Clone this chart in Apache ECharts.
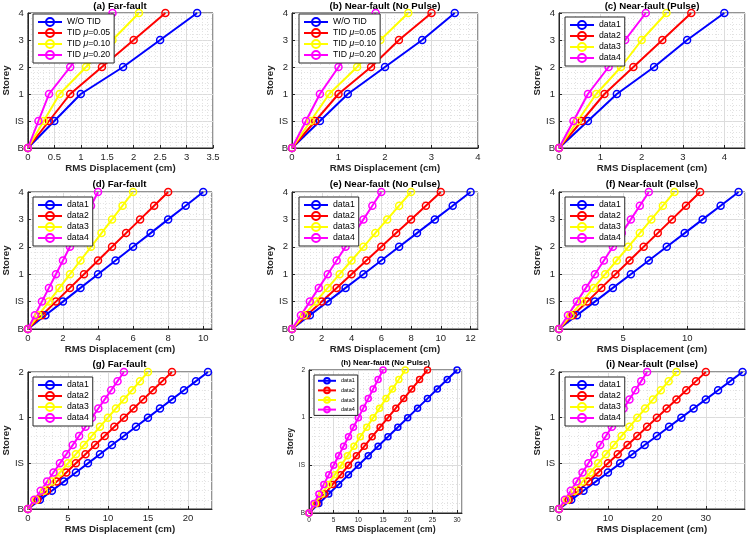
<!DOCTYPE html>
<html>
<head>
<meta charset="utf-8">
<script src="https://cdn.jsdelivr.net/npm/echarts@6/dist/echarts.min.js"></script>
<style>
  html, body { margin: 0; padding: 0; background: #fff; }
  #chart { width: 750px; height: 539px; }
</style>
</head>
<body>
<div id="chart"></div>
<script>
// storey levels on the y axis (B, IS, 1, 2, ...)
const levels6 = [0, 1, 2, 3, 4, 5];
const levels11 = [0, 0.5, 1, 1.5, 2, 2.5, 3, 3.5, 4, 4.5, 5];
const levels16 = [0, 0.2, 0.4, 0.6, 0.8, 1, 1.2, 1.4, 1.6, 1.8, 2, 2.2, 2.4, 2.6, 2.8, 3];
const storeyLabels4 = ['B', 'IS', '1', '2', '3', '4'];
const storeyLabels2 = ['B', 'IS', '1', '2'];

const tidNames = ['W/O TID', 'TID μ=0.05', 'TID μ=0.10', 'TID μ=0.20'];
const dataNames = ['data1', 'data2', 'data3', 'data4'];
const colors = ['#0000ff', '#ff0000', '#ffff00', '#ff00ff'];

// RMS displacement (cm), one row per series
const dispA = [
  [0, 0.5, 1.0, 1.8, 2.5, 3.2],
  [0, 0.4, 0.8, 1.4, 2.0, 2.6],
  [0, 0.3, 0.6, 1.1, 1.6, 2.1],
  [0, 0.2, 0.4, 0.8, 1.2, 1.6]
];
const dispB = [
  [0, 0.6, 1.2, 2.0, 2.8, 3.5],
  [0, 0.5, 1.0, 1.7, 2.3, 3.0],
  [0, 0.4, 0.8, 1.4, 1.9, 2.5],
  [0, 0.3, 0.6, 1.0, 1.4, 1.8]
];
const dispC = [
  [0, 0.7, 1.4, 2.3, 3.1, 4.0],
  [0, 0.55, 1.1, 1.8, 2.5, 3.2],
  [0, 0.45, 0.9, 1.5, 2.0, 2.6],
  [0, 0.35, 0.7, 1.2, 1.6, 2.1]
];
const dispD = [
  [0, 1, 2, 3, 4, 5, 6, 7, 8, 9, 10],
  [0, 0.8, 1.6, 2.4, 3.2, 4.0, 4.8, 5.6, 6.4, 7.2, 8.0],
  [0, 0.6, 1.2, 1.8, 2.4, 3.0, 3.6, 4.2, 4.8, 5.4, 6.0],
  [0, 0.4, 0.8, 1.2, 1.6, 2.0, 2.4, 2.8, 3.2, 3.6, 4.0]
];
const dispE = [
  [0, 1.2, 2.4, 3.6, 4.8, 6.0, 7.2, 8.4, 9.6, 10.8, 12.0],
  [0, 1, 2, 3, 4, 5, 6, 7, 8, 9, 10],
  [0, 0.8, 1.6, 2.4, 3.2, 4.0, 4.8, 5.6, 6.4, 7.2, 8.0],
  [0, 0.6, 1.2, 1.8, 2.4, 3.0, 3.6, 4.2, 4.8, 5.4, 6.0]
];
const dispF = [
  [0, 1.4, 2.8, 4.2, 5.6, 7.0, 8.4, 9.8, 11.2, 12.6, 14.0],
  [0, 1.1, 2.2, 3.3, 4.4, 5.5, 6.6, 7.7, 8.8, 9.9, 11.0],
  [0, 0.9, 1.8, 2.7, 3.6, 4.5, 5.4, 6.3, 7.2, 8.1, 9.0],
  [0, 0.7, 1.4, 2.1, 2.8, 3.5, 4.2, 4.9, 5.6, 6.3, 7.0]
];
const dispG = [
  [0, 1.5, 3, 4.5, 6, 7.5, 9, 10.5, 12, 13.5, 15, 16.5, 18, 19.5, 21, 22.5],
  [0, 1.2, 2.4, 3.6, 4.8, 6.0, 7.2, 8.4, 9.6, 10.8, 12.0, 13.2, 14.4, 15.6, 16.8, 18.0],
  [0, 1, 2, 3, 4, 5, 6, 7, 8, 9, 10, 11, 12, 13, 14, 15],
  [0, 0.8, 1.6, 2.4, 3.2, 4.0, 4.8, 5.6, 6.4, 7.2, 8.0, 8.8, 9.6, 10.4, 11.2, 12.0]
];
const dispH = [
  [0, 2, 4, 6, 8, 10, 12, 14, 16, 18, 20, 22, 24, 26, 28, 30],
  [0, 1.6, 3.2, 4.8, 6.4, 8.0, 9.6, 11.2, 12.8, 14.4, 16.0, 17.6, 19.2, 20.8, 22.4, 24.0],
  [0, 1.3, 2.6, 3.9, 5.2, 6.5, 7.8, 9.1, 10.4, 11.7, 13.0, 14.3, 15.6, 16.9, 18.2, 19.5],
  [0, 1, 2, 3, 4, 5, 6, 7, 8, 9, 10, 11, 12, 13, 14, 15]
];
const dispI = [
  [0, 2.5, 5, 7.5, 10, 12.5, 15, 17.5, 20, 22.5, 25, 27.5, 30, 32.5, 35, 37.5],
  [0, 2, 4, 6, 8, 10, 12, 14, 16, 18, 20, 22, 24, 26, 28, 30],
  [0, 1.6, 3.2, 4.8, 6.4, 8.0, 9.6, 11.2, 12.8, 14.4, 16.0, 17.6, 19.2, 20.8, 22.4, 24.0],
  [0, 1.2, 2.4, 3.6, 4.8, 6.0, 7.2, 8.4, 9.6, 10.8, 12.0, 13.2, 14.4, 15.6, 16.8, 18.0]
];

const FONT = '"Liberation Sans", Arial, sans-serif';

// panel layout: grid box [left, top, width, height]
const panels = [
  { title: '(a) Far-fault', box: [27, 13, 186, 135], xMax: 3.5, xInt: 0.5, disp: dispA, levels: levels6, yMax: 5, yLabels: storeyLabels4, names: tidNames, legend: [33, 14] },
  { title: '(b) Near-fault (No Pulse)', box: [292, 13, 186, 135], xMax: 4, xInt: 1, disp: dispB, levels: levels6, yMax: 5, yLabels: storeyLabels4, names: tidNames, legend: [299, 14] },
  { title: '(c) Near-fault (Pulse)', box: [559, 13, 186, 135], xMax: 4.5, xInt: 1, disp: dispC, levels: levels6, yMax: 5, yLabels: storeyLabels4, names: dataNames, legend: [565, 17] },
  { title: '(d) Far-fault', box: [27, 192, 185, 137], xMax: 10.5, xInt: 2, disp: dispD, levels: levels11, yMax: 5, yLabels: storeyLabels4, names: dataNames, legend: [33, 197] },
  { title: '(e) Near-fault (No Pulse)', box: [292, 192, 186, 137], xMax: 12.5, xInt: 2, disp: dispE, levels: levels11, yMax: 5, yLabels: storeyLabels4, names: dataNames, legend: [299, 197] },
  { title: '(f) Near-fault (Pulse)', box: [559, 192, 186, 137], xMax: 14.5, xInt: 5, disp: dispF, levels: levels11, yMax: 5, yLabels: storeyLabels4, names: dataNames, legend: [565, 197] },
  { title: '(g) Far-fault', box: [27, 372, 185, 137], xMax: 23, xInt: 5, disp: dispG, levels: levels16, yMax: 3, yLabels: storeyLabels2, names: dataNames, legend: [33, 377] },
  { title: '(h) Near-fault (No Pulse)', box: [309, 370, 153, 143], xMax: 31, xInt: 5, disp: dispH, levels: levels16, yMax: 3, yLabels: storeyLabels2, names: dataNames, legend: [314, 375], small: true },
  { title: '(i) Near-fault (Pulse)', box: [559, 372, 186, 137], xMax: 38, xInt: 10, disp: dispI, levels: levels16, yMax: 3, yLabels: storeyLabels2, names: dataNames, legend: [565, 377] }
];

const option = {
  backgroundColor: '#fff',
  animation: false,
  textStyle: { fontFamily: FONT },
  title: [], grid: [], xAxis: [], yAxis: [], legend: [], series: []
};

panels.forEach((p, k) => {
  const [left, top, width, height] = p.box;
  const fTick = p.small ? 6.5 : 9.5;
  const fName = p.small ? 8.8 : 9.7;
  const fTitle = p.small ? 7.8 : 9.7;
  const fLegend = p.small ? 5.5 : 8.7;

  option.title.push({
    text: p.title,
    left: left + width / 2,
    top: Math.max(1, top - fTitle - 3),
    textAlign: 'center',
    padding: 0,
    textStyle: { fontSize: fTitle, fontWeight: 'bold', color: '#000', fontFamily: FONT }
  });

  option.grid.push({
    left: left, top: top, width: width, height: height,
    show: true, borderColor: '#262626', borderWidth: 1, backgroundColor: '#fff'
  });

  option.xAxis.push({
    type: 'value', gridIndex: k, min: 0, max: p.xMax, interval: p.xInt,
    name: 'RMS Displacement (cm)', nameLocation: 'middle', nameGap: p.small ? 11 : 15,
    nameTextStyle: { fontSize: fName, fontWeight: 'bold', color: '#262626' },
    axisLine: { show: true, lineStyle: { color: '#262626' } },
    axisTick: { show: true, inside: true, length: 3, lineStyle: { color: '#262626' } },
    minorTick: { show: false, splitNumber: 5 },
    axisLabel: { fontSize: fTick, color: '#262626', margin: 4, showMaxLabel: p.xMax % p.xInt === 0 },
    splitLine: { show: true, lineStyle: { color: '#dcdcdc', width: 1 } },
    minorSplitLine: { show: true, lineStyle: { color: '#e2e2e2', type: [1, 2], width: 1 } }
  });

  option.yAxis.push({
    type: 'value', gridIndex: k, min: 0, max: p.yMax, interval: 1,
    name: 'Storey', nameLocation: 'middle', nameGap: p.small ? 11 : 13, nameRotate: 90,
    nameTextStyle: { fontSize: fName, fontWeight: 'bold', color: '#262626' },
    axisLine: { show: true, lineStyle: { color: '#262626' } },
    axisTick: { show: true, inside: true, length: 3, lineStyle: { color: '#262626' } },
    minorTick: { show: false, splitNumber: 5 },
    axisLabel: {
      fontSize: fTick, color: '#262626', margin: 4,
      formatter: v => p.yLabels[Math.round(v)]
    },
    splitLine: { show: true, lineStyle: { color: '#dcdcdc', width: 1 } },
    minorSplitLine: { show: true, lineStyle: { color: '#e2e2e2', type: [1, 2], width: 1 } }
  });

  option.legend.push({
    left: p.legend[0], top: p.legend[1], orient: 'vertical',
    z: 20,
    data: p.names,
    backgroundColor: '#fff', borderColor: '#262626', borderWidth: 1,
    padding: p.small ? [2, 3] : [3, 4], itemGap: p.small ? 2 : 1,
    itemWidth: p.small ? 18 : 24, itemHeight: p.small ? 7 : 10,
    selectedMode: false,
    formatter: name => name.replace('μ', '{i|μ}'),
    textStyle: {
      fontSize: fLegend, color: '#000', fontFamily: FONT,
      rich: { i: { fontStyle: 'italic', fontSize: fLegend, fontFamily: FONT } }
    }
  });

  p.disp.forEach((xs, s) => {
    option.series.push({
      name: p.names[s], type: 'line',
      xAxisIndex: k, yAxisIndex: k,
      data: xs.map((x, i) => [x, p.levels[i]]),
      symbol: 'circle', symbolSize: p.small ? 6 : 7,
      lineStyle: { color: colors[s], width: 2 },
      itemStyle: { color: 'rgba(255,255,255,0)', borderColor: colors[s], borderWidth: 1.5 },
      emphasis: { disabled: true },
      z: 2
    });
  });
});

const chart = echarts.init(document.getElementById('chart'), null, { renderer: 'canvas' });
chart.setOption(option);
</script>
</body>
</html>
